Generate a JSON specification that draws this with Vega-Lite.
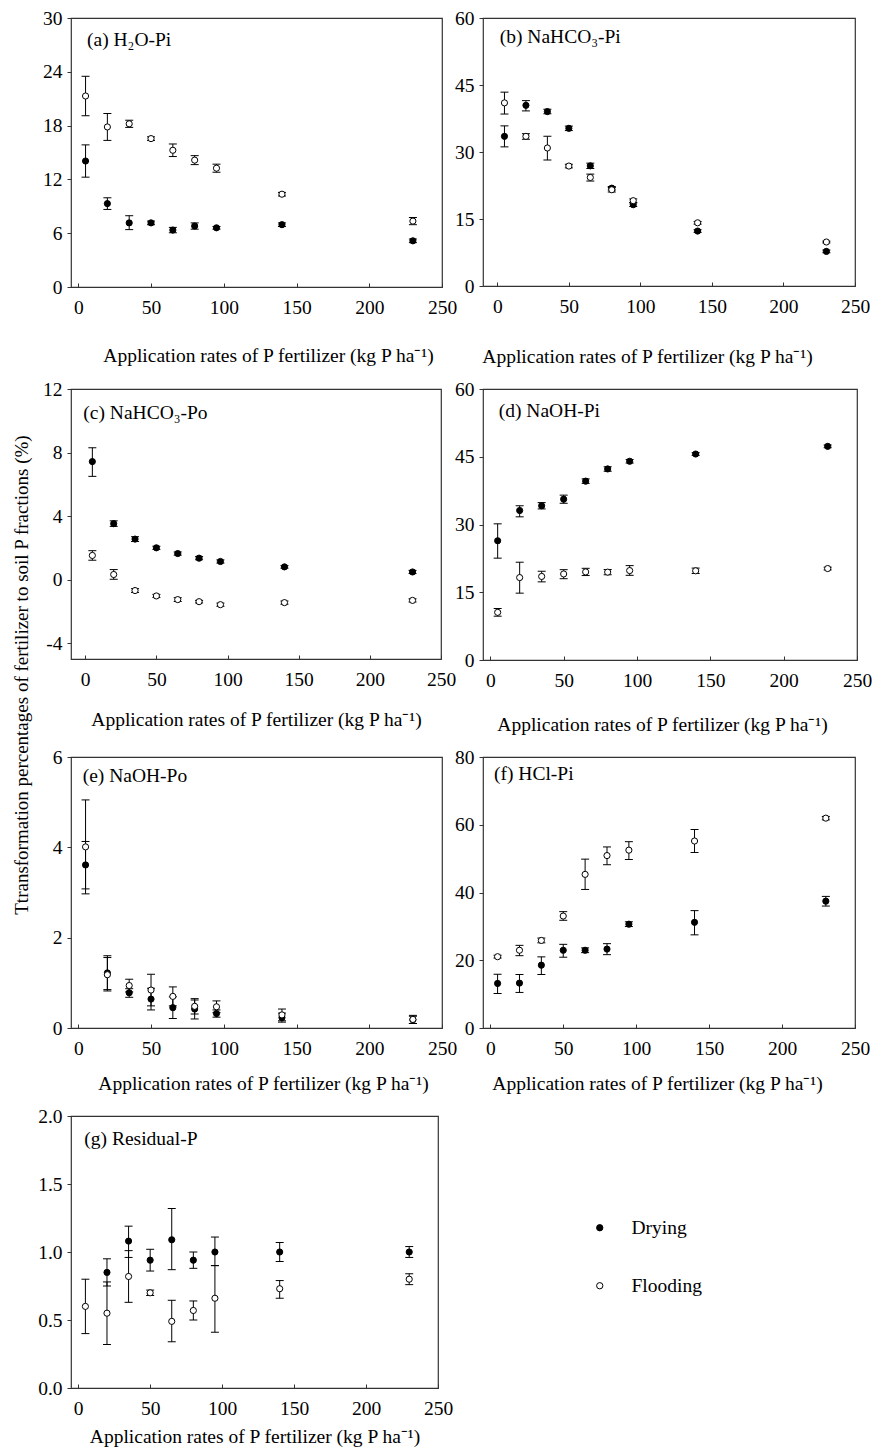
{
  "$schema": "https://vega.github.io/schema/vega-lite/v6.json",
  "padding": {"left": 13, "top": 7, "right": 5, "bottom": 5},
  "title": {"text": "Ttransformation percentages of fertilizer to soil P fractions (%)", "orient": "left", "anchor": "middle", "fontSize": 19, "offset": -4, "dx": 52},
  "data": {"values": [
    {"panel":"a","treat":"Drying","x":5,"y":14.05,"lo":12.25,"hi":15.85},
    {"panel":"a","treat":"Drying","x":20,"y":9.3,"lo":8.65,"hi":9.95},
    {"panel":"a","treat":"Drying","x":35,"y":7.15,"lo":6.4,"hi":7.95},
    {"panel":"a","treat":"Drying","x":50,"y":7.15,"lo":6.95,"hi":7.35},
    {"panel":"a","treat":"Drying","x":65,"y":6.35,"lo":6.05,"hi":6.65},
    {"panel":"a","treat":"Drying","x":80,"y":6.8,"lo":6.45,"hi":7.15},
    {"panel":"a","treat":"Drying","x":95,"y":6.6,"lo":6.45,"hi":6.75},
    {"panel":"a","treat":"Drying","x":140,"y":6.95,"lo":6.75,"hi":7.15},
    {"panel":"a","treat":"Drying","x":230,"y":5.15,"lo":4.95,"hi":5.35},
    {"panel":"a","treat":"Flooding","x":5,"y":21.3,"lo":19.1,"hi":23.5},
    {"panel":"a","treat":"Flooding","x":20,"y":17.85,"lo":16.35,"hi":19.35},
    {"panel":"a","treat":"Flooding","x":35,"y":18.2,"lo":17.8,"hi":18.6},
    {"panel":"a","treat":"Flooding","x":50,"y":16.55,"lo":16.35,"hi":16.75},
    {"panel":"a","treat":"Flooding","x":65,"y":15.25,"lo":14.55,"hi":15.95},
    {"panel":"a","treat":"Flooding","x":80,"y":14.15,"lo":13.65,"hi":14.65},
    {"panel":"a","treat":"Flooding","x":95,"y":13.25,"lo":12.8,"hi":13.7},
    {"panel":"a","treat":"Flooding","x":140,"y":10.35,"lo":10.15,"hi":10.55},
    {"panel":"a","treat":"Flooding","x":230,"y":7.35,"lo":6.95,"hi":7.75},

    {"panel":"b","treat":"Drying","x":5,"y":33.5,"lo":31.15,"hi":35.85},
    {"panel":"b","treat":"Drying","x":20,"y":40.45,"lo":39.2,"hi":41.5},
    {"panel":"b","treat":"Drying","x":35,"y":39.05,"lo":38.55,"hi":39.55},
    {"panel":"b","treat":"Drying","x":50,"y":35.3,"lo":34.8,"hi":35.8},
    {"panel":"b","treat":"Drying","x":65,"y":26.9,"lo":26.3,"hi":27.5},
    {"panel":"b","treat":"Drying","x":80,"y":21.9,"lo":21.5,"hi":22.3},
    {"panel":"b","treat":"Drying","x":95,"y":18.2,"lo":17.8,"hi":18.6},
    {"panel":"b","treat":"Drying","x":140,"y":12.3,"lo":12.0,"hi":12.6},
    {"panel":"b","treat":"Drying","x":230,"y":7.75,"lo":7.45,"hi":8.05},
    {"panel":"b","treat":"Flooding","x":5,"y":41.0,"lo":38.5,"hi":43.4},
    {"panel":"b","treat":"Flooding","x":20,"y":33.5,"lo":32.85,"hi":34.1},
    {"panel":"b","treat":"Flooding","x":35,"y":30.9,"lo":28.2,"hi":33.5},
    {"panel":"b","treat":"Flooding","x":50,"y":26.85,"lo":26.45,"hi":27.25},
    {"panel":"b","treat":"Flooding","x":65,"y":24.3,"lo":23.5,"hi":25.05},
    {"panel":"b","treat":"Flooding","x":80,"y":21.55,"lo":21.05,"hi":22.05},
    {"panel":"b","treat":"Flooding","x":95,"y":19.1,"lo":18.7,"hi":19.5},
    {"panel":"b","treat":"Flooding","x":140,"y":14.15,"lo":13.85,"hi":14.45},
    {"panel":"b","treat":"Flooding","x":230,"y":9.85,"lo":9.65,"hi":10.05},

    {"panel":"c","treat":"Drying","x":5,"y":7.43,"lo":6.5,"hi":8.3},
    {"panel":"c","treat":"Drying","x":20,"y":3.52,"lo":3.35,"hi":3.7},
    {"panel":"c","treat":"Drying","x":35,"y":2.55,"lo":2.4,"hi":2.7},
    {"panel":"c","treat":"Drying","x":50,"y":2.0,"lo":1.9,"hi":2.1},
    {"panel":"c","treat":"Drying","x":65,"y":1.64,"lo":1.54,"hi":1.74},
    {"panel":"c","treat":"Drying","x":80,"y":1.35,"lo":1.25,"hi":1.45},
    {"panel":"c","treat":"Drying","x":95,"y":1.14,"lo":1.04,"hi":1.24},
    {"panel":"c","treat":"Drying","x":140,"y":0.8,"lo":0.72,"hi":0.88},
    {"panel":"c","treat":"Drying","x":230,"y":0.48,"lo":0.38,"hi":0.58},
    {"panel":"c","treat":"Flooding","x":5,"y":1.52,"lo":1.22,"hi":1.82},
    {"panel":"c","treat":"Flooding","x":20,"y":0.32,"lo":0.02,"hi":0.63},
    {"panel":"c","treat":"Flooding","x":35,"y":-0.69,"lo":-0.81,"hi":-0.57},
    {"panel":"c","treat":"Flooding","x":50,"y":-1.03,"lo":-1.13,"hi":-0.93},
    {"panel":"c","treat":"Flooding","x":65,"y":-1.26,"lo":-1.38,"hi":-1.14},
    {"panel":"c","treat":"Flooding","x":80,"y":-1.39,"lo":-1.47,"hi":-1.31},
    {"panel":"c","treat":"Flooding","x":95,"y":-1.58,"lo":-1.68,"hi":-1.48},
    {"panel":"c","treat":"Flooding","x":140,"y":-1.45,"lo":-1.55,"hi":-1.35},
    {"panel":"c","treat":"Flooding","x":230,"y":-1.31,"lo":-1.41,"hi":-1.21},

    {"panel":"d","treat":"Drying","x":5,"y":26.4,"lo":22.55,"hi":30.15},
    {"panel":"d","treat":"Drying","x":20,"y":33.1,"lo":31.7,"hi":34.15},
    {"panel":"d","treat":"Drying","x":35,"y":34.15,"lo":33.45,"hi":34.85},
    {"panel":"d","treat":"Drying","x":50,"y":35.6,"lo":34.7,"hi":36.5},
    {"panel":"d","treat":"Drying","x":65,"y":39.6,"lo":39.1,"hi":40.1},
    {"panel":"d","treat":"Drying","x":80,"y":42.3,"lo":41.8,"hi":42.8},
    {"panel":"d","treat":"Drying","x":95,"y":44.0,"lo":43.6,"hi":44.4},
    {"panel":"d","treat":"Drying","x":140,"y":45.6,"lo":45.3,"hi":45.9},
    {"panel":"d","treat":"Drying","x":230,"y":47.3,"lo":47.0,"hi":47.6},
    {"panel":"d","treat":"Flooding","x":5,"y":10.55,"lo":9.7,"hi":11.4},
    {"panel":"d","treat":"Flooding","x":20,"y":18.25,"lo":14.8,"hi":21.65},
    {"panel":"d","treat":"Flooding","x":35,"y":18.5,"lo":17.3,"hi":19.65},
    {"panel":"d","treat":"Flooding","x":50,"y":19.05,"lo":18.0,"hi":20.0},
    {"panel":"d","treat":"Flooding","x":65,"y":19.5,"lo":18.7,"hi":20.3},
    {"panel":"d","treat":"Flooding","x":80,"y":19.45,"lo":18.85,"hi":20.05},
    {"panel":"d","treat":"Flooding","x":95,"y":19.8,"lo":18.75,"hi":20.9},
    {"panel":"d","treat":"Flooding","x":140,"y":19.75,"lo":19.15,"hi":20.35},
    {"panel":"d","treat":"Flooding","x":230,"y":20.25,"lo":19.95,"hi":20.55},

    {"panel":"e","treat":"Drying","x":5,"y":3.61,"lo":3.08,"hi":4.13},
    {"panel":"e","treat":"Drying","x":20,"y":1.22,"lo":0.85,"hi":1.6},
    {"panel":"e","treat":"Drying","x":35,"y":0.78,"lo":0.68,"hi":0.87},
    {"panel":"e","treat":"Drying","x":50,"y":0.64,"lo":0.4,"hi":0.88},
    {"panel":"e","treat":"Drying","x":65,"y":0.45,"lo":0.21,"hi":0.69},
    {"panel":"e","treat":"Drying","x":80,"y":0.42,"lo":0.2,"hi":0.62},
    {"panel":"e","treat":"Drying","x":95,"y":0.32,"lo":0.24,"hi":0.4},
    {"panel":"e","treat":"Drying","x":140,"y":0.23,"lo":0.13,"hi":0.33},
    {"panel":"e","treat":"Drying","x":230,"y":0.18,"lo":0.1,"hi":0.26},
    {"panel":"e","treat":"Flooding","x":5,"y":4.01,"lo":2.97,"hi":5.05},
    {"panel":"e","treat":"Flooding","x":20,"y":1.18,"lo":0.82,"hi":1.56},
    {"panel":"e","treat":"Flooding","x":35,"y":0.94,"lo":0.8,"hi":1.08},
    {"panel":"e","treat":"Flooding","x":50,"y":0.84,"lo":0.49,"hi":1.19},
    {"panel":"e","treat":"Flooding","x":65,"y":0.7,"lo":0.49,"hi":0.91},
    {"panel":"e","treat":"Flooding","x":80,"y":0.48,"lo":0.31,"hi":0.65},
    {"panel":"e","treat":"Flooding","x":95,"y":0.47,"lo":0.34,"hi":0.6},
    {"panel":"e","treat":"Flooding","x":140,"y":0.29,"lo":0.16,"hi":0.42},
    {"panel":"e","treat":"Flooding","x":230,"y":0.19,"lo":0.1,"hi":0.28},

    {"panel":"f","treat":"Drying","x":5,"y":13.15,"lo":10.15,"hi":15.9},
    {"panel":"f","treat":"Drying","x":20,"y":13.25,"lo":10.5,"hi":15.8},
    {"panel":"f","treat":"Drying","x":35,"y":18.55,"lo":15.8,"hi":21.0},
    {"panel":"f","treat":"Drying","x":50,"y":22.95,"lo":20.9,"hi":24.7},
    {"panel":"f","treat":"Drying","x":65,"y":22.95,"lo":22.25,"hi":23.65},
    {"panel":"f","treat":"Drying","x":80,"y":23.3,"lo":21.65,"hi":24.9},
    {"panel":"f","treat":"Drying","x":95,"y":30.65,"lo":29.95,"hi":31.35},
    {"panel":"f","treat":"Drying","x":140,"y":31.2,"lo":27.5,"hi":34.65},
    {"panel":"f","treat":"Drying","x":230,"y":37.45,"lo":36.0,"hi":38.85},
    {"panel":"f","treat":"Flooding","x":5,"y":21.05,"lo":20.65,"hi":21.45},
    {"panel":"f","treat":"Flooding","x":20,"y":22.95,"lo":21.35,"hi":24.4},
    {"panel":"f","treat":"Flooding","x":35,"y":25.85,"lo":25.15,"hi":26.55},
    {"panel":"f","treat":"Flooding","x":50,"y":33.05,"lo":31.8,"hi":34.35},
    {"panel":"f","treat":"Flooding","x":65,"y":45.35,"lo":40.9,"hi":49.85},
    {"panel":"f","treat":"Flooding","x":80,"y":50.9,"lo":48.2,"hi":53.45},
    {"panel":"f","treat":"Flooding","x":95,"y":52.5,"lo":49.75,"hi":55.0},
    {"panel":"f","treat":"Flooding","x":140,"y":55.2,"lo":51.8,"hi":58.6},
    {"panel":"f","treat":"Flooding","x":230,"y":61.95,"lo":61.45,"hi":62.45},

    {"panel":"g","treat":"Drying","x":20,"y":0.85,"lo":0.75,"hi":0.95},
    {"panel":"g","treat":"Drying","x":35,"y":1.08,"lo":0.96,"hi":1.19},
    {"panel":"g","treat":"Drying","x":50,"y":0.94,"lo":0.86,"hi":1.02},
    {"panel":"g","treat":"Drying","x":65,"y":1.09,"lo":0.87,"hi":1.32},
    {"panel":"g","treat":"Drying","x":80,"y":0.94,"lo":0.88,"hi":1.0},
    {"panel":"g","treat":"Drying","x":95,"y":1.0,"lo":0.9,"hi":1.11},
    {"panel":"g","treat":"Drying","x":140,"y":1.0,"lo":0.93,"hi":1.07},
    {"panel":"g","treat":"Drying","x":230,"y":1.0,"lo":0.96,"hi":1.04},
    {"panel":"g","treat":"Flooding","x":5,"y":0.6,"lo":0.4,"hi":0.8},
    {"panel":"g","treat":"Flooding","x":20,"y":0.55,"lo":0.32,"hi":0.78},
    {"panel":"g","treat":"Flooding","x":35,"y":0.82,"lo":0.63,"hi":1.01},
    {"panel":"g","treat":"Flooding","x":50,"y":0.7,"lo":0.68,"hi":0.72},
    {"panel":"g","treat":"Flooding","x":65,"y":0.49,"lo":0.34,"hi":0.645},
    {"panel":"g","treat":"Flooding","x":80,"y":0.57,"lo":0.5,"hi":0.64},
    {"panel":"g","treat":"Flooding","x":95,"y":0.66,"lo":0.41,"hi":0.9},
    {"panel":"g","treat":"Flooding","x":140,"y":0.73,"lo":0.66,"hi":0.79},
    {"panel":"g","treat":"Flooding","x":230,"y":0.8,"lo":0.76,"hi":0.84}
  ]},
  "columns": 2,
  "spacing": {"row": 11, "column": -6},
  "align": "each",
  "bounds": "full",
  "concat": [
    {
      "width": 371, "height": 269,
      "title": {"text": "(a) H₂O-Pi", "anchor": "start", "frame": "group", "orient": "top", "offset": -57, "dx": 16, "baseline": "alphabetic"},
      "transform": [{"filter": "datum.panel === 'a'"}],
      "encoding": {"x": {"field": "x", "type": "quantitative", "scale": {"domain": [-5, 250], "nice": false, "zero": false}, "axis": {"values": [0,50,100,150,200,250], "title": "Application rates of P fertilizer (kg P ha⁻¹)", "titlePadding": 29.6, "titleX": 197}}},
      "layer": [
        {"mark": {"type": "rule", "color": "black", "strokeWidth": 1}, "encoding": {"y": {"field": "lo", "type": "quantitative", "scale": {"domain": [0, 30], "nice": false, "zero": false}, "axis": {"values": [0,6,12,18,24,30], "title": null, "minExtent": 33}}, "y2": {"field": "hi"}}},
        {"mark": {"type": "tick", "orient": "horizontal", "size": 8, "thickness": 1, "color": "black", "opacity": 1}, "encoding": {"y": {"field": "lo", "type": "quantitative"}}},
        {"mark": {"type": "tick", "orient": "horizontal", "size": 8, "thickness": 1, "color": "black", "opacity": 1}, "encoding": {"y": {"field": "hi", "type": "quantitative"}}},
        {"mark": {"type": "point", "shape": "circle", "filled": true, "size": 38, "stroke": "black", "strokeWidth": 1, "opacity": 1}, "encoding": {"y": {"field": "y", "type": "quantitative"}, "fill": {"field": "treat", "type": "nominal", "scale": {"domain": ["Drying", "Flooding"], "range": ["black", "white"]}, "legend": {"title": null, "orient": "none", "legendX": 519, "legendY": 1200, "symbolType": "circle", "symbolSize": 40, "symbolStrokeColor": "black", "symbolStrokeWidth": 1, "rowPadding": 37, "labelOffset": 22, "padding": 0}}}}
      ]
    },
    {
      "width": 372, "height": 268,
      "title": {"text": "(b) NaHCO₃-Pi", "anchor": "start", "frame": "group", "orient": "top", "offset": -54.5, "dx": 16.7, "baseline": "alphabetic"},
      "transform": [{"filter": "datum.panel === 'b'"}],
      "encoding": {"x": {"field": "x", "type": "quantitative", "scale": {"domain": [-10, 250], "nice": false, "zero": false}, "axis": {"values": [0,50,100,150,200,250], "title": "Application rates of P fertilizer (kg P ha⁻¹)", "titlePadding": 31.6, "titleX": 164}}},
      "layer": [
        {"mark": {"type": "rule", "color": "black", "strokeWidth": 1}, "encoding": {"y": {"field": "lo", "type": "quantitative", "scale": {"domain": [0, 60], "nice": false, "zero": false}, "axis": {"values": [0,15,30,45,60], "title": null, "minExtent": 29.7}}, "y2": {"field": "hi"}}},
        {"mark": {"type": "tick", "orient": "horizontal", "size": 8, "thickness": 1, "color": "black", "opacity": 1}, "encoding": {"y": {"field": "lo", "type": "quantitative"}}},
        {"mark": {"type": "tick", "orient": "horizontal", "size": 8, "thickness": 1, "color": "black", "opacity": 1}, "encoding": {"y": {"field": "hi", "type": "quantitative"}}},
        {"mark": {"type": "point", "shape": "circle", "filled": true, "size": 38, "stroke": "black", "strokeWidth": 1, "opacity": 1}, "encoding": {"y": {"field": "y", "type": "quantitative"}, "fill": {"field": "treat", "type": "nominal", "scale": {"domain": ["Drying", "Flooding"], "range": ["black", "white"]}}}}
      ]
    },
    {
      "width": 370, "height": 270,
      "title": {"text": "(c) NaHCO₃-Po", "anchor": "start", "frame": "group", "orient": "top", "offset": -59.5, "dx": 12.3, "baseline": "alphabetic"},
      "transform": [{"filter": "datum.panel === 'c'"}],
      "encoding": {"x": {"field": "x", "type": "quantitative", "scale": {"domain": [-10, 250], "nice": false, "zero": false}, "axis": {"values": [0,50,100,150,200,250], "title": "Application rates of P fertilizer (kg P ha⁻¹)", "titlePadding": 21.6}}},
      "layer": [
        {"mark": {"type": "rule", "color": "black", "strokeWidth": 1}, "encoding": {"y": {"field": "lo", "type": "quantitative", "scale": {"domain": [-5, 12], "nice": false, "zero": false}, "axis": {"values": [-4,0,4,8,12], "title": null, "minExtent": 37, "labelExpr": "'' + datum.value"}}, "y2": {"field": "hi"}}},
        {"mark": {"type": "tick", "orient": "horizontal", "size": 8, "thickness": 1, "color": "black", "opacity": 1}, "encoding": {"y": {"field": "lo", "type": "quantitative"}}},
        {"mark": {"type": "tick", "orient": "horizontal", "size": 8, "thickness": 1, "color": "black", "opacity": 1}, "encoding": {"y": {"field": "hi", "type": "quantitative"}}},
        {"mark": {"type": "point", "shape": "circle", "filled": true, "size": 38, "stroke": "black", "strokeWidth": 1, "opacity": 1}, "encoding": {"y": {"field": "y", "type": "quantitative"}, "fill": {"field": "treat", "type": "nominal", "scale": {"domain": ["Drying", "Flooding"], "range": ["black", "white"]}}}}
      ]
    },
    {
      "width": 374, "height": 271,
      "title": {"text": "(d) NaOH-Pi", "anchor": "start", "frame": "group", "orient": "top", "offset": -57.8, "dx": 15.7, "baseline": "alphabetic"},
      "transform": [{"filter": "datum.panel === 'd'"}],
      "encoding": {"x": {"field": "x", "type": "quantitative", "scale": {"domain": [-5, 250], "nice": false, "zero": false}, "axis": {"values": [0,50,100,150,200,250], "title": "Application rates of P fertilizer (kg P ha⁻¹)", "titlePadding": 25.6, "titleX": 179}}},
      "layer": [
        {"mark": {"type": "rule", "color": "black", "strokeWidth": 1}, "encoding": {"y": {"field": "lo", "type": "quantitative", "scale": {"domain": [0, 60], "nice": false, "zero": false}, "axis": {"values": [0,15,30,45,60], "title": null, "minExtent": 27.4}}, "y2": {"field": "hi"}}},
        {"mark": {"type": "tick", "orient": "horizontal", "size": 8, "thickness": 1, "color": "black", "opacity": 1}, "encoding": {"y": {"field": "lo", "type": "quantitative"}}},
        {"mark": {"type": "tick", "orient": "horizontal", "size": 8, "thickness": 1, "color": "black", "opacity": 1}, "encoding": {"y": {"field": "hi", "type": "quantitative"}}},
        {"mark": {"type": "point", "shape": "circle", "filled": true, "size": 38, "stroke": "black", "strokeWidth": 1, "opacity": 1}, "encoding": {"y": {"field": "y", "type": "quantitative"}, "fill": {"field": "treat", "type": "nominal", "scale": {"domain": ["Drying", "Flooding"], "range": ["black", "white"]}}}}
      ]
    },
    {
      "width": 371, "height": 271,
      "title": {"text": "(e) NaOH-Po", "anchor": "start", "frame": "group", "orient": "top", "offset": -54.8, "dx": 11.7, "baseline": "alphabetic"},
      "transform": [{"filter": "datum.panel === 'e'"}],
      "encoding": {"x": {"field": "x", "type": "quantitative", "scale": {"domain": [-5, 250], "nice": false, "zero": false}, "axis": {"values": [0,50,100,150,200,250], "title": "Application rates of P fertilizer (kg P ha⁻¹)", "titlePadding": 16.6, "titleX": 192}}},
      "layer": [
        {"mark": {"type": "rule", "color": "black", "strokeWidth": 1}, "encoding": {"y": {"field": "lo", "type": "quantitative", "scale": {"domain": [0, 6], "nice": false, "zero": false}, "axis": {"values": [0,2,4,6], "title": null, "minExtent": 41}}, "y2": {"field": "hi"}}},
        {"mark": {"type": "tick", "orient": "horizontal", "size": 8, "thickness": 1, "color": "black", "opacity": 1}, "encoding": {"y": {"field": "lo", "type": "quantitative"}}},
        {"mark": {"type": "tick", "orient": "horizontal", "size": 8, "thickness": 1, "color": "black", "opacity": 1}, "encoding": {"y": {"field": "hi", "type": "quantitative"}}},
        {"mark": {"type": "point", "shape": "circle", "filled": true, "size": 38, "stroke": "black", "strokeWidth": 1, "opacity": 1}, "encoding": {"y": {"field": "y", "type": "quantitative"}, "fill": {"field": "treat", "type": "nominal", "scale": {"domain": ["Drying", "Flooding"], "range": ["black", "white"]}}}}
      ]
    },
    {
      "width": 372, "height": 271,
      "title": {"text": "(f) HCl-Pi", "anchor": "start", "frame": "group", "orient": "top", "offset": -52, "dx": 11, "baseline": "alphabetic"},
      "transform": [{"filter": "datum.panel === 'f'"}],
      "encoding": {"x": {"field": "x", "type": "quantitative", "scale": {"domain": [-5, 250], "nice": false, "zero": false}, "axis": {"values": [0,50,100,150,200,250], "title": "Application rates of P fertilizer (kg P ha⁻¹)", "titlePadding": 16.6, "titleX": 174}}},
      "layer": [
        {"mark": {"type": "rule", "color": "black", "strokeWidth": 1}, "encoding": {"y": {"field": "lo", "type": "quantitative", "scale": {"domain": [0, 80], "nice": false, "zero": false}, "axis": {"values": [0,20,40,60,80], "title": null, "minExtent": 29.7}}, "y2": {"field": "hi"}}},
        {"mark": {"type": "tick", "orient": "horizontal", "size": 8, "thickness": 1, "color": "black", "opacity": 1}, "encoding": {"y": {"field": "lo", "type": "quantitative"}}},
        {"mark": {"type": "tick", "orient": "horizontal", "size": 8, "thickness": 1, "color": "black", "opacity": 1}, "encoding": {"y": {"field": "hi", "type": "quantitative"}}},
        {"mark": {"type": "point", "shape": "circle", "filled": true, "size": 38, "stroke": "black", "strokeWidth": 1, "opacity": 1}, "encoding": {"y": {"field": "y", "type": "quantitative"}, "fill": {"field": "treat", "type": "nominal", "scale": {"domain": ["Drying", "Flooding"], "range": ["black", "white"]}}}}
      ]
    },
    {
      "width": 367, "height": 272,
      "title": {"text": "(g) Residual-P", "anchor": "start", "frame": "group", "orient": "top", "offset": -58.8, "dx": 13.3, "baseline": "alphabetic"},
      "transform": [{"filter": "datum.panel === 'g'"}],
      "encoding": {"x": {"field": "x", "type": "quantitative", "scale": {"domain": [-5, 250], "nice": false, "zero": false}, "axis": {"values": [0,50,100,150,200,250], "title": "Application rates of P fertilizer (kg P ha⁻¹)", "titlePadding": 9.6}}},
      "layer": [
        {"mark": {"type": "rule", "color": "black", "strokeWidth": 1}, "encoding": {"y": {"field": "lo", "type": "quantitative", "scale": {"domain": [0, 2], "nice": false, "zero": false}, "axis": {"values": [0,0.5,1,1.5,2], "format": ".1f", "title": null, "minExtent": 42}}, "y2": {"field": "hi"}}},
        {"mark": {"type": "tick", "orient": "horizontal", "size": 8, "thickness": 1, "color": "black", "opacity": 1}, "encoding": {"y": {"field": "lo", "type": "quantitative"}}},
        {"mark": {"type": "tick", "orient": "horizontal", "size": 8, "thickness": 1, "color": "black", "opacity": 1}, "encoding": {"y": {"field": "hi", "type": "quantitative"}}},
        {"mark": {"type": "point", "shape": "circle", "filled": true, "size": 38, "stroke": "black", "strokeWidth": 1, "opacity": 1}, "encoding": {"y": {"field": "y", "type": "quantitative"}, "fill": {"field": "treat", "type": "nominal", "scale": {"domain": ["Drying", "Flooding"], "range": ["black", "white"]}}}}
      ]
    }
  ],
  "config": {
    "font": "Liberation Serif",
    "view": {"stroke": "#333333", "strokeWidth": 1.2},
    "axis": {"labelFont": "Liberation Serif", "labelFontSize": 19.5, "labelColor": "black", "titleFont": "Liberation Serif", "titleFontSize": 19.5, "titleFontWeight": "normal", "titleColor": "black", "domain": false, "grid": false, "ticks": true, "tickColor": "#333333", "tickWidth": 1},
    "axisY": {"tickSize": 4, "labelPadding": 5},
    "axisX": {"tickSize": -4, "labelPadding": 15.5, "labelFlush": false, "labelOverlap": false, "minExtent": 0},
    "title": {"font": "Liberation Serif", "fontSize": 19.5, "fontWeight": "normal", "color": "black"},
    "legend": {"labelFont": "Liberation Serif", "labelFontSize": 19.5, "labelColor": "black"}
  }
}
